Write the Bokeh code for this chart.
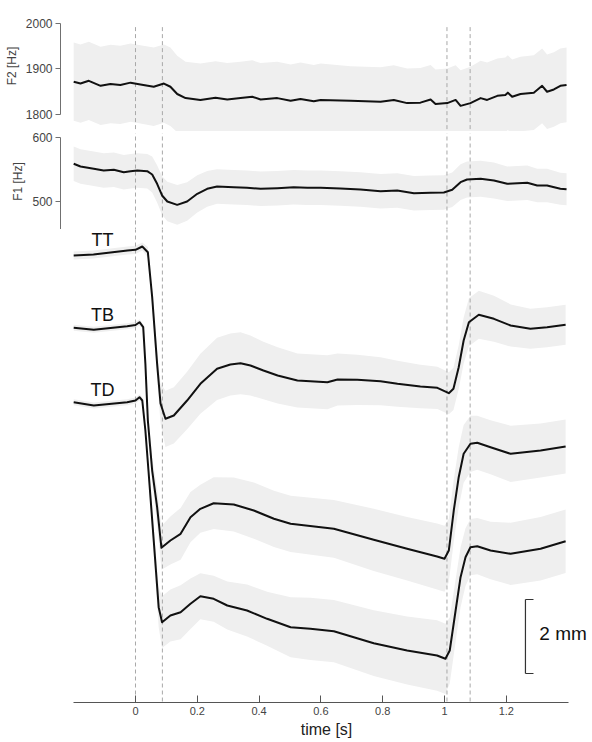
import numpy as np
from bokeh.plotting import figure
from bokeh.models import Range1d, FixedTicker, Label
from bokeh.layouts import column
from bokeh.embed import file_html
from bokeh.resources import INLINE

# ---------------- data ----------------
# F2 formant (Hz): mean and spread
f2_t = [-0.200, -0.178, -0.151, -0.113, -0.081, -0.049, -0.016, 0.016, 0.059, 0.092,
        0.113, 0.135, 0.162, 0.210, 0.259, 0.297, 0.340, 0.378, 0.405, 0.459,
        0.502, 0.534, 0.577, 0.599, 0.696, 0.793, 0.836, 0.879, 0.922, 0.955,
        0.971, 1.009, 1.036, 1.052, 1.084, 1.117, 1.138, 1.171, 1.197, 1.205,
        1.219, 1.246, 1.289, 1.316, 1.332, 1.354, 1.375, 1.395]
f2_hz = [1872, 1868, 1874, 1863, 1867, 1865, 1870, 1866, 1861, 1868,
         1861, 1845, 1836, 1832, 1837, 1833, 1836, 1839, 1833, 1836,
         1830, 1834, 1829, 1832, 1830, 1828, 1832, 1825, 1826, 1833,
         1823, 1825, 1832, 1819, 1825, 1836, 1832, 1841, 1843, 1848,
         1839, 1845, 1848, 1863, 1850, 1855, 1863, 1865]
f2_sd = [86, 86, 86, 86, 86, 86, 86, 86, 86, 86,
         86, 84, 80, 80, 80, 80, 80, 80, 80, 80,
         80, 80, 80, 80, 76, 76, 76, 76, 76, 76,
         76, 76, 76, 78, 80, 82, 82, 82, 82, 82,
         82, 82, 82, 82, 82, 82, 82, 82]

# F1 formant (Hz)
f1_t = [-0.200, -0.178, -0.135, -0.103, -0.070, -0.038, -0.016, 0.006, 0.038, 0.054,
        0.070, 0.086, 0.103, 0.135, 0.167, 0.200, 0.232, 0.264, 0.318, 0.361,
        0.405, 0.459, 0.512, 0.556, 0.599, 0.663, 0.728, 0.793, 0.847, 0.901,
        0.955, 0.998, 1.025, 1.052, 1.073, 1.117, 1.160, 1.203, 1.268, 1.300,
        1.332, 1.375, 1.395]
f1_hz = [558.9, 554.7, 551.1, 548.4, 549.5, 545.8, 547.4, 548.4, 547.4, 542.2,
         527.6, 509.4, 500.0, 494.8, 500.0, 512.0, 519.8, 523.4, 522.3, 521.4,
         519.8, 520.8, 522.3, 521.4, 521.4, 520.3, 518.8, 516.1, 517.2, 513.0,
         513.6, 514.1, 518.3, 530.2, 534.4, 535.5, 532.8, 527.7, 529.2, 525.0,
         525.0, 519.8, 519.0]
f1_sd = [27, 27, 27, 27, 27, 27, 27, 27, 27, 28,
         29, 30, 31, 31, 30, 29, 28, 27, 27, 27,
         27, 27, 27, 27, 27, 27, 27, 27, 27, 27,
         27, 27, 27, 28, 28, 28, 28, 27, 27, 26,
         26, 25, 25]

# articulator traces (mm): tongue tip, tongue body, tongue dorsum
tt_t = [-0.200, -0.136, -0.026, 0.000, 0.022, 0.040, 0.054, 0.070, 0.081, 0.097,
        0.124, 0.167, 0.210, 0.264, 0.307, 0.340, 0.372, 0.414, 0.460, 0.524,
        0.621, 0.654, 0.718, 0.793, 0.848, 0.922, 0.977, 1.014, 1.029, 1.046,
        1.062, 1.079, 1.111, 1.160, 1.214, 1.278, 1.332, 1.392]
tt_mm = [12.081, 12.108, 12.216, 12.235, 12.324, 12.170, 10.954, 9.154, 8.081, 7.668,
         7.757, 8.162, 8.614, 9.019, 9.135, 9.170, 9.108, 8.973, 8.838, 8.703,
         8.657, 8.730, 8.722, 8.684, 8.614, 8.541, 8.505, 8.359, 8.478, 9.062,
         9.784, 10.278, 10.478, 10.370, 10.189, 10.100, 10.143, 10.208]
tt_sd = [0.11, 0.11, 0.11, 0.11, 0.11, 0.14, 0.22, 0.38, 0.54, 0.76,
         0.76, 0.78, 0.81, 0.84, 0.84, 0.84, 0.81, 0.78, 0.76, 0.73,
         0.73, 0.70, 0.68, 0.65, 0.62, 0.59, 0.57, 0.57, 0.57, 0.59,
         0.62, 0.65, 0.65, 0.62, 0.57, 0.54, 0.54, 0.54]

tb_t = [-0.200, -0.135, -0.027, 0.000, 0.013, 0.025, 0.032, 0.040, 0.054, 0.070,
        0.084, 0.113, 0.146, 0.178, 0.210, 0.253, 0.318, 0.383, 0.448, 0.502,
        0.642, 0.771, 0.879, 0.976, 1.000, 1.014, 1.030, 1.046, 1.062, 1.084,
        1.106, 1.149, 1.214, 1.311, 1.392]
tb_mm = [10.127, 10.073, 10.170, 10.203, 10.278, 10.143, 9.154, 7.622, 6.270, 5.278,
         4.181, 4.378, 4.559, 5.008, 5.235, 5.386, 5.351, 5.189, 4.965, 4.830,
         4.695, 4.397, 4.154, 3.946, 3.884, 4.108, 5.189, 6.089, 6.722, 6.992,
         7.019, 6.900, 6.722, 6.811, 6.919]
tb_sd = [0.08, 0.08, 0.08, 0.08, 0.08, 0.08, 0.16, 0.24, 0.35, 0.49,
         0.59, 0.65, 0.70, 0.68, 0.65, 0.70, 0.73, 0.76, 0.76, 0.76,
         0.78, 0.84, 0.86, 0.89, 0.89, 0.86, 0.84, 0.81, 0.78, 0.76,
         0.73, 0.73, 0.76, 0.73, 0.73]

td_t = [-0.200, -0.135, -0.027, 0.000, 0.013, 0.022, 0.032, 0.042, 0.059, 0.075,
        0.086, 0.113, 0.146, 0.178, 0.210, 0.253, 0.297, 0.361, 0.426, 0.502,
        0.566, 0.642, 0.771, 0.879, 0.976, 1.003, 1.017, 1.036, 1.052, 1.068,
        1.084, 1.106, 1.149, 1.214, 1.311, 1.392]
td_mm = [8.116, 8.027, 8.116, 8.162, 8.251, 8.162, 7.351, 6.270, 4.378, 2.576,
         2.170, 2.351, 2.441, 2.668, 2.873, 2.803, 2.622, 2.486, 2.262, 2.035,
         1.992, 1.927, 1.603, 1.405, 1.270, 1.181, 1.405, 2.486, 3.386, 3.927,
         4.197, 4.224, 4.108, 4.019, 4.154, 4.359]
td_sd = [0.08, 0.08, 0.08, 0.08, 0.08, 0.08, 0.14, 0.22, 0.35, 0.54,
         0.70, 0.70, 0.73, 0.68, 0.62, 0.62, 0.65, 0.70, 0.73, 0.81,
         0.84, 0.84, 0.89, 0.92, 0.95, 0.95, 0.89, 0.84, 0.81, 0.78,
         0.76, 0.76, 0.78, 0.84, 0.86, 0.86]

trace_names = ["TT", "TB", "TD"]
event_times = [0.0, 0.087, 1.008, 1.083]
time_ticks = [0, 0.2, 0.4, 0.6, 0.8, 1.0, 1.2]
time_tick_labels = ["0", "0.2", "0.4", "0.6", "0.8", "1", "1.2"]
f2_ticks = [1800, 1900, 2000]
f1_ticks = [500, 600]
scalebar_mm = 2

# ---------------- style ----------------
FONT = "Liberation Sans"
BAND = "#efefef"
LINE = "#111111"
DASH = "#a8a8a8"
AXC = "#707070"
LABC = "#444444"

x_range = Range1d(-0.2427, 1.4790)


def base(height, y_range, top, bottom, xloc=None, yloc="left"):
    p = figure(width=592, height=height, x_range=x_range, y_range=y_range,
               output_backend="svg", toolbar_location=None, tools="",
               x_axis_location=xloc, y_axis_location=yloc,
               min_border_left=60, min_border_right=0,
               min_border_top=top, min_border_bottom=bottom)
    p.outline_line_color = None
    p.xgrid.visible = False
    p.ygrid.visible = False
    p.background_fill_color = "white"
    p.border_fill_color = "white"
    return p


def style_y(p, ticks, bounds, label):
    ax = p.yaxis[0]
    ax.ticker = FixedTicker(ticks=ticks)
    ax.bounds = bounds
    ax.major_tick_out = 5
    ax.major_tick_in = 0
    ax.minor_tick_out = 0
    ax.minor_tick_in = 0
    ax.axis_line_color = AXC
    ax.major_tick_line_color = AXC
    ax.major_label_text_color = LABC
    ax.major_label_text_font = FONT
    ax.major_label_text_font_size = "12px"
    ax.major_label_standoff = 3
    ax.axis_label = label
    ax.axis_label_text_font = FONT
    ax.axis_label_text_font_size = "12px"
    ax.axis_label_text_font_style = "normal"
    ax.axis_label_text_color = LABC
    ax.axis_label_standoff = 4


def band(p, t, m, sd):
    t = np.array(t, dtype=float)
    m = np.array(m, dtype=float)
    sd = np.array(sd, dtype=float)
    p.varea(x=t, y1=m - sd, y2=m + sd, fill_color=BAND)


def draw_line(p, t, m):
    p.line(t, m, line_color=LINE, line_width=2, line_join="round")


def events(p, y0, y1):
    p.segment(x0=event_times, y0=[y0] * len(event_times),
              x1=event_times, y1=[y1] * len(event_times),
              line_color=DASH, line_width=1, line_dash="4 3")


# ---- F2 panel ----
pA = base(131, Range1d(1762.64, 2050.5), 0, 0)
style_y(pA, f2_ticks, (1800, 2000), "F2 [Hz]")
band(pA, f2_t, f2_hz, f2_sd)
events(pA, 1992, 1700)
draw_line(pA, f2_t, f2_hz)

# ---- F1 panel ----
pB = base(98, Range1d(456.25, 606.25), 2, 0)
style_y(pB, f1_ticks, (456.25, 600), "F1 [Hz]")
band(pB, f1_t, f1_hz, f1_sd)
events(pB, 700, 400)
draw_line(pB, f1_t, f1_hz)

# ---- articulator panel ----
pC = base(513, Range1d(0, 12.7838), 0, 40, xloc="below", yloc=None)
xa = pC.xaxis[0]
xa.ticker = FixedTicker(ticks=time_ticks)
xa.major_label_overrides = {k: v for k, v in zip(time_ticks, time_tick_labels)}
xa.bounds = (-0.2, 1.4)
xa.major_tick_in = 7
xa.major_tick_out = 0
xa.minor_tick_in = 0
xa.minor_tick_out = 0
xa.axis_line_color = "#555555"
xa.major_tick_line_color = "#555555"
xa.major_label_text_color = LABC
xa.major_label_text_font = FONT
xa.major_label_text_font_size = "11px"
xa.major_label_standoff = 4
xa.axis_label = "time [s]"
xa.axis_label_text_font = FONT
xa.axis_label_text_font_size = "16px"
xa.axis_label_text_font_style = "normal"
xa.axis_label_text_color = "#222222"
xa.axis_label_standoff = 3

series = [(tt_t, tt_mm, tt_sd), (tb_t, tb_mm, tb_sd), (td_t, td_mm, td_sd)]
for t, m, sd in series:
    band(pC, t, m, sd)
events(pC, 20, 0)
for t, m, sd in series:
    draw_line(pC, t, m)

label_y = [12.50, 10.473, 8.441]
for name, y in zip(trace_names, label_y):
    pC.add_layout(Label(x=-0.107, y=y, text=name, text_align="center",
                        text_baseline="middle", text_font=FONT,
                        text_font_size="18px", text_color="#111111"))

# scale bar
sb_x, sb_top, sb_arm = 1.262, 2.784, 0.026
sb_bot = sb_top - scalebar_mm
pC.segment(x0=[sb_x, sb_x, sb_x], y0=[sb_top, sb_top, sb_bot],
           x1=[sb_x, sb_x + sb_arm, sb_x + sb_arm], y1=[sb_bot, sb_top, sb_bot],
           line_color="#333333", line_width=1.2)
pC.add_layout(Label(x=1.307, y=1.865, text=f"{scalebar_mm} mm", text_align="left",
                    text_baseline="middle", text_font=FONT,
                    text_font_size="19px", text_color="#111111"))

layout = column(pA, pB, pC)
open("out.html", "w").write(file_html(layout, INLINE))
